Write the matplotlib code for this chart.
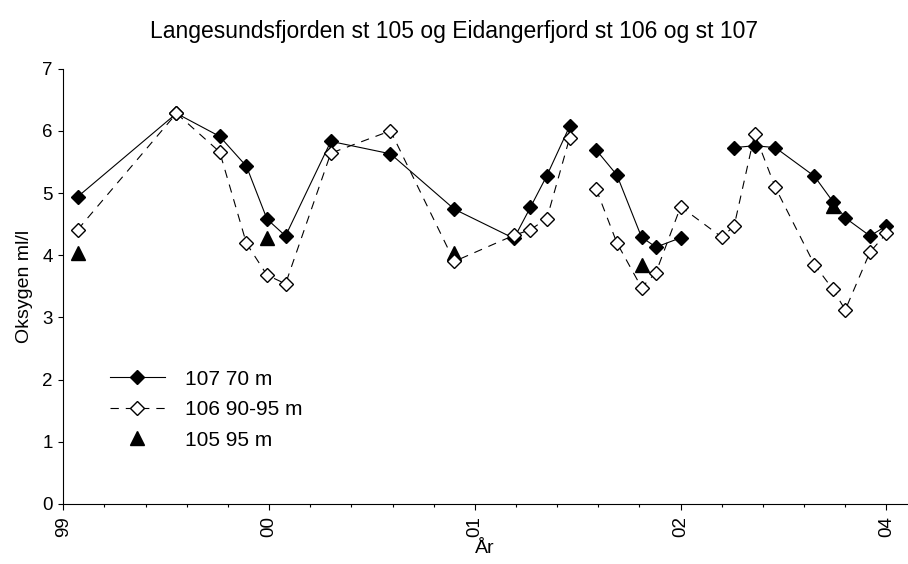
import numpy as np
import matplotlib.pyplot as plt

plt.rcParams['font.family'] = ['Liberation Sans', 'DejaVu Sans']
plt.rcParams['lines.scale_dashes'] = False

nan = np.nan

# position on the time axis, one unit = one major tick step
pos = [0.07, 0.55, 0.76, 0.89, 0.99, 1.08, 1.30, 1.59, 1.90, 2.19, 2.27, 2.35, 2.46, 2.52,
       2.59, 2.69, 2.81, 2.88, 3.00, 3.20, 3.26, 3.36, 3.46, 3.65, 3.74, 3.80, 3.92, 4.00]
st107 = [4.94, 6.28, 5.91, 5.43, 4.58, 4.31, 5.83, 5.63, 4.74, 4.27, 4.77, 5.28, 6.07, nan,
         5.69, 5.29, 4.29, 4.13, 4.28, nan, 5.73, 5.76, 5.73, 5.27, 4.86, 4.60, 4.31, 4.47]
st106 = [4.41, 6.28, 5.66, 4.19, 3.68, 3.54, 5.64, 6.00, 3.90, 4.32, 4.41, 4.59, 5.88, nan,
         5.06, 4.20, 3.48, 3.72, 4.78, 4.29, 4.47, 5.95, 5.09, 3.85, 3.45, 3.12, 4.05, 4.35]

pos105 = [0.07, 0.99, 1.90, 2.81, 3.74]
st105 = [4.03, 4.27, 4.03, 3.84, 4.79]

year_labels = ['99', '00', '01', '02', '04']

fig = plt.figure(figsize=(9.08, 5.64), dpi=100)
ax = fig.add_axes([63.3 / 908, 1 - 504 / 564, (907 - 63.3) / 908, (504 - 68.6) / 564])

ax.plot(pos105, st105, ls='none', marker='^', ms=10, color='black',
        label='105 95 m', zorder=2)
ax.plot(pos, st107, ls='-', lw=0.8, color='black', marker='D', ms=7,
        mfc='black', mec='black', label='107 70 m', zorder=3)
ax.plot(pos, st106, ls=(0, (6, 5)), lw=0.8, color='black', marker='D', ms=7,
        mfc='white', mec='black', mew=1, label='106 90-95 m', zorder=4)

ax.set_xlim(0, 4.1)
ax.set_ylim(0, 7)
ax.set_xticks(range(len(year_labels)))
ax.set_xticklabels(year_labels, rotation=90, fontsize=13.5)
ax.set_xticks(np.arange(0, 4.01, 0.2), minor=True)
ax.set_yticks(range(0, 8))
ax.tick_params(axis='y', labelsize=13.5, length=3.5, width=0.8, direction='out', pad=4)
ax.tick_params(axis='x', which='major', length=4.5, width=0.8, direction='out', pad=4)
ax.tick_params(axis='x', which='minor', length=2.5, width=0.8, direction='out')

for s in ['top', 'right']:
    ax.spines[s].set_visible(False)
for s in ['left', 'bottom']:
    ax.spines[s].set_linewidth(0.8)

ax.set_xlabel('År', fontsize=14, labelpad=2)
ax.set_ylabel('Oksygen ml/l', fontsize=14, labelpad=7)
fig.suptitle('Langesundsfjorden st 105 og Eidangerfjord st 106 og st 107',
             fontsize=16.5, y=0.965)

h, l = ax.get_legend_handles_labels()
order = [1, 2, 0]
ax.legend([h[i] for i in order], [l[i] for i in order], loc='lower left',
          bbox_to_anchor=(0.033, 0.082), frameon=False, fontsize=15,
          handlelength=2.65, handletextpad=0.95, labelspacing=0.55)

fig.savefig('out.png', dpi=100)
